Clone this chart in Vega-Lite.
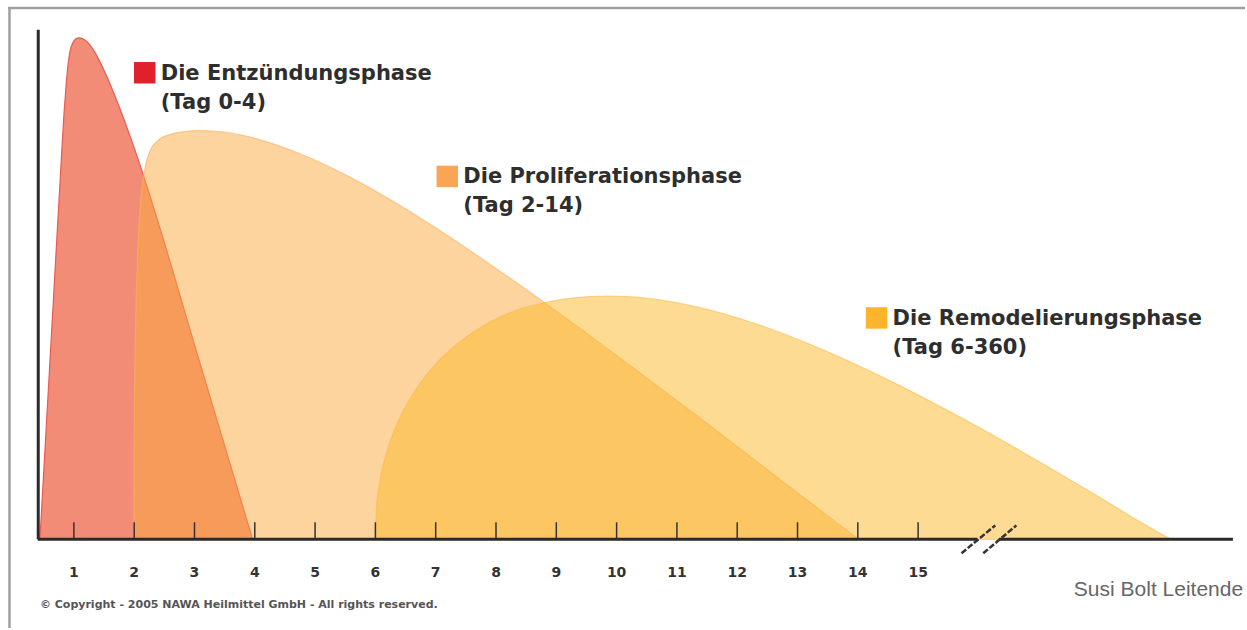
{
  "$schema": "https://vega.github.io/schema/vega-lite/v6.json",
  "width": 1247,
  "height": 630,
  "autosize": {"type": "fit", "contains": "padding"},
  "padding": 0,
  "background": "#ffffff",
  "config": {"view": {"stroke": null}},
  "datasets": {
    "curves": [
      {"phase": "Entzündung", "day": 0.437, "level": 0},
      {"phase": "Entzündung", "day": 0.619, "level": 38.87},
      {"phase": "Entzündung", "day": 0.801, "level": 77.73},
      {"phase": "Entzündung", "day": 0.834, "level": 84.49},
      {"phase": "Entzündung", "day": 0.868, "level": 90.06},
      {"phase": "Entzündung", "day": 0.901, "level": 94.43},
      {"phase": "Entzündung", "day": 0.934, "level": 97.22},
      {"phase": "Entzündung", "day": 0.983, "level": 99.0},
      {"phase": "Entzündung", "day": 1.033, "level": 99.8},
      {"phase": "Entzündung", "day": 1.083, "level": 100},
      {"phase": "Entzündung", "day": 1.182, "level": 99.58},
      {"phase": "Entzündung", "day": 1.265, "level": 98.59},
      {"phase": "Entzündung", "day": 1.348, "level": 97.1},
      {"phase": "Entzündung", "day": 1.43, "level": 95.26},
      {"phase": "Entzündung", "day": 1.596, "level": 90.88},
      {"phase": "Entzündung", "day": 1.762, "level": 85.91},
      {"phase": "Entzündung", "day": 1.927, "level": 80.55},
      {"phase": "Entzündung", "day": 2.093, "level": 74.78},
      {"phase": "Entzündung", "day": 2.258, "level": 68.62},
      {"phase": "Entzündung", "day": 3.086, "level": 35.31},
      {"phase": "Entzündung", "day": 3.964, "level": 0},
      {"phase": "Proliferation", "day": 1.993, "level": 0},
      {"phase": "Proliferation", "day": 2.002, "level": 24.06},
      {"phase": "Proliferation", "day": 2.026, "level": 43.94},
      {"phase": "Proliferation", "day": 2.06, "level": 57.85},
      {"phase": "Proliferation", "day": 2.109, "level": 67.79},
      {"phase": "Proliferation", "day": 2.175, "level": 73.76},
      {"phase": "Proliferation", "day": 2.258, "level": 77.34},
      {"phase": "Proliferation", "day": 2.391, "level": 79.52},
      {"phase": "Proliferation", "day": 2.589, "level": 80.72},
      {"phase": "Proliferation", "day": 2.838, "level": 81.31},
      {"phase": "Proliferation", "day": 3.086, "level": 81.51},
      {"phase": "Proliferation", "day": 3.417, "level": 81.29},
      {"phase": "Proliferation", "day": 3.914, "level": 80.24},
      {"phase": "Proliferation", "day": 4.742, "level": 76.94},
      {"phase": "Proliferation", "day": 5.57, "level": 72.27},
      {"phase": "Proliferation", "day": 6.397, "level": 66.64},
      {"phase": "Proliferation", "day": 7.225, "level": 60.34},
      {"phase": "Proliferation", "day": 8.053, "level": 53.56},
      {"phase": "Proliferation", "day": 8.881, "level": 46.54},
      {"phase": "Proliferation", "day": 9.709, "level": 39.26},
      {"phase": "Proliferation", "day": 10.536, "level": 31.83},
      {"phase": "Proliferation", "day": 11.364, "level": 24.32},
      {"phase": "Proliferation", "day": 12.192, "level": 16.72},
      {"phase": "Proliferation", "day": 13.02, "level": 9.07},
      {"phase": "Proliferation", "day": 14.013, "level": 0},
      {"phase": "Remodelierung", "day": 6.0, "level": 0},
      {"phase": "Remodelierung", "day": 6.017, "level": 5.85},
      {"phase": "Remodelierung", "day": 6.066, "level": 10.92},
      {"phase": "Remodelierung", "day": 6.149, "level": 15.69},
      {"phase": "Remodelierung", "day": 6.232, "level": 19.09},
      {"phase": "Remodelierung", "day": 6.364, "level": 23.18},
      {"phase": "Remodelierung", "day": 6.513, "level": 26.78},
      {"phase": "Remodelierung", "day": 6.728, "level": 30.91},
      {"phase": "Remodelierung", "day": 6.944, "level": 34.19},
      {"phase": "Remodelierung", "day": 7.225, "level": 37.63},
      {"phase": "Remodelierung", "day": 7.507, "level": 40.36},
      {"phase": "Remodelierung", "day": 7.805, "level": 42.68},
      {"phase": "Remodelierung", "day": 8.053, "level": 44.25},
      {"phase": "Remodelierung", "day": 8.384, "level": 45.9},
      {"phase": "Remodelierung", "day": 8.748, "level": 47.02},
      {"phase": "Remodelierung", "day": 9.129, "level": 47.91},
      {"phase": "Remodelierung", "day": 9.543, "level": 48.41},
      {"phase": "Remodelierung", "day": 9.874, "level": 48.51},
      {"phase": "Remodelierung", "day": 10.536, "level": 48.03},
      {"phase": "Remodelierung", "day": 11.364, "level": 46.24},
      {"phase": "Remodelierung", "day": 12.192, "level": 43.44},
      {"phase": "Remodelierung", "day": 13.02, "level": 39.8},
      {"phase": "Remodelierung", "day": 13.848, "level": 35.53},
      {"phase": "Remodelierung", "day": 14.675, "level": 30.75},
      {"phase": "Remodelierung", "day": 15.503, "level": 25.61},
      {"phase": "Remodelierung", "day": 16.331, "level": 20.14},
      {"phase": "Remodelierung", "day": 17.159, "level": 14.41},
      {"phase": "Remodelierung", "day": 17.987, "level": 8.53},
      {"phase": "Remodelierung", "day": 18.649, "level": 3.7},
      {"phase": "Remodelierung", "day": 19.195, "level": 0}
    ],
    "days": [
      {"day": 1}, {"day": 2}, {"day": 3}, {"day": 4}, {"day": 5},
      {"day": 6}, {"day": 7}, {"day": 8}, {"day": 9}, {"day": 10},
      {"day": 11}, {"day": 12}, {"day": 13}, {"day": 14}, {"day": 15}
    ],
    "legend": [
      {"phase": "Entzündung", "name": "Die Entzündungsphase", "period": "(Tag 0-4)", "day": 2.175, "level": 93.04},
      {"phase": "Proliferation", "name": "Die Proliferationsphase", "period": "(Tag 2-14)", "day": 7.192, "level": 72.37},
      {"phase": "Remodelierung", "name": "Die Remodelierungsphase", "period": "(Tag 6-360)", "day": 14.311, "level": 44.14}
    ],
    "axes": [
      {"part": "x-left", "day": 0.4, "day2": 15.98, "level": 0, "level2": 0},
      {"part": "x-right", "day": 16.34, "day2": 20.22, "level": 0, "level2": 0},
      {"part": "y", "day": 0.409, "day2": 0.409, "level": 0, "level2": 101.6}
    ],
    "breaks": [
      {"day": 15.72, "day2": 16.28, "level": -2.78, "level2": 2.78},
      {"day": 16.08, "day2": 16.63, "level": -2.78, "level2": 2.78}
    ],
    "frame": [
      {"day": -0.093, "day2": 20.42, "level": 105.96, "level2": 105.96},
      {"day": -0.068, "day2": -0.068, "level": 105.96, "level2": -17.69}
    ],
    "notes": [
      {"kind": "copyright", "text": "© Copyright - 2005 NAWA Heilmittel GmbH - All rights reserved.", "day": 0.437, "level": -13.12},
      {"kind": "credit", "text": "Susi Bolt Leitende", "day": 20.39, "level": -10.14}
    ]
  },
  "layer": [
    {
      "data": {"name": "frame"},
      "mark": {"type": "rule", "stroke": "#a0a0a0", "strokeWidth": 2.5},
      "encoding": {
        "x": {"field": "day", "type": "quantitative", "axis": null, "scale": {"domain": [-0.2252, 20.4205], "nice": false, "zero": false}},
        "y": {"field": "level", "type": "quantitative", "axis": null, "scale": {"domain": [-17.69, 107.55], "nice": false, "zero": false}},
        "x2": {"field": "day2"}, "y2": {"field": "level2"}
      }
    },
    {
      "data": {"name": "curves"},
      "transform": [{"filter": "datum.phase === 'Entzündung'"}],
      "mark": {"type": "area", "interpolate": "monotone", "fill": "#f28c76", "fillOpacity": 1, "stroke": "#ea5a55", "strokeWidth": 1.2},
      "encoding": {
        "x": {"field": "day", "type": "quantitative", "axis": null, "scale": {"domain": [-0.2252, 20.4205], "nice": false, "zero": false}},
        "y": {"field": "level", "type": "quantitative", "axis": null, "scale": {"domain": [-17.69, 107.55], "nice": false, "zero": false}},
        "y2": {"datum": 0}
      }
    },
    {
      "data": {"name": "curves"},
      "transform": [{"filter": "datum.phase === 'Proliferation'"}],
      "mark": {"type": "area", "interpolate": "monotone", "fill": "#fba93d", "fillOpacity": 0.5, "stroke": "#fbb060", "strokeOpacity": 0.6, "strokeWidth": 1.2},
      "encoding": {
        "x": {"field": "day", "type": "quantitative", "axis": null, "scale": {"domain": [-0.2252, 20.4205], "nice": false, "zero": false}},
        "y": {"field": "level", "type": "quantitative", "axis": null, "scale": {"domain": [-17.69, 107.55], "nice": false, "zero": false}},
        "y2": {"datum": 0}
      }
    },
    {
      "data": {"name": "curves"},
      "transform": [{"filter": "datum.phase === 'Remodelierung'"}],
      "mark": {"type": "area", "interpolate": "monotone", "fill": "#fbb727", "fillOpacity": 0.5, "stroke": "#fbbd4a", "strokeOpacity": 0.6, "strokeWidth": 1.2},
      "encoding": {
        "x": {"field": "day", "type": "quantitative", "axis": null, "scale": {"domain": [-0.2252, 20.4205], "nice": false, "zero": false}},
        "y": {"field": "level", "type": "quantitative", "axis": null, "scale": {"domain": [-17.69, 107.55], "nice": false, "zero": false}},
        "y2": {"datum": 0}
      }
    },
    {
      "data": {"name": "days"},
      "mark": {"type": "rule", "stroke": "#333333", "strokeWidth": 1.5},
      "encoding": {
        "x": {"field": "day", "type": "quantitative", "axis": null, "scale": {"domain": [-0.2252, 20.4205], "nice": false, "zero": false}},
        "y": {"datum": 0, "type": "quantitative", "axis": null, "scale": {"domain": [-17.69, 107.55], "nice": false, "zero": false}},
        "y2": {"datum": 3.4}
      }
    },
    {
      "data": {"name": "axes"},
      "mark": {"type": "rule", "stroke": "#2a2a2a", "strokeWidth": 3},
      "encoding": {
        "x": {"field": "day", "type": "quantitative", "axis": null, "scale": {"domain": [-0.2252, 20.4205], "nice": false, "zero": false}},
        "y": {"field": "level", "type": "quantitative", "axis": null, "scale": {"domain": [-17.69, 107.55], "nice": false, "zero": false}},
        "x2": {"field": "day2"}, "y2": {"field": "level2"}
      }
    },
    {
      "data": {"name": "breaks"},
      "mark": {"type": "rule", "stroke": "#333333", "strokeWidth": 2.5, "strokeDash": [6, 2]},
      "encoding": {
        "x": {"field": "day", "type": "quantitative", "axis": null, "scale": {"domain": [-0.2252, 20.4205], "nice": false, "zero": false}},
        "y": {"field": "level", "type": "quantitative", "axis": null, "scale": {"domain": [-17.69, 107.55], "nice": false, "zero": false}},
        "x2": {"field": "day2"}, "y2": {"field": "level2"}
      }
    },
    {
      "data": {"name": "days"},
      "mark": {"type": "text", "font": "DejaVu Sans", "fontWeight": "bold", "fontSize": 14, "fill": "#333333", "align": "center", "baseline": "middle"},
      "encoding": {
        "x": {"field": "day", "type": "quantitative", "axis": null, "scale": {"domain": [-0.2252, 20.4205], "nice": false, "zero": false}},
        "y": {"datum": -6.76, "type": "quantitative", "axis": null, "scale": {"domain": [-17.69, 107.55], "nice": false, "zero": false}},
        "text": {"field": "day", "type": "quantitative"}
      }
    },
    {
      "data": {"name": "legend"},
      "mark": {"type": "point", "shape": "square", "filled": true, "size": 460, "opacity": 1},
      "encoding": {
        "x": {"field": "day", "type": "quantitative", "axis": null, "scale": {"domain": [-0.2252, 20.4205], "nice": false, "zero": false}},
        "y": {"field": "level", "type": "quantitative", "axis": null, "scale": {"domain": [-17.69, 107.55], "nice": false, "zero": false}},
        "color": {"field": "phase", "type": "nominal", "legend": null,
                  "scale": {"domain": ["Entzündung", "Proliferation", "Remodelierung"], "range": ["#e0202a", "#f9a555", "#fbb42c"]}}
      }
    },
    {
      "data": {"name": "legend"},
      "mark": {"type": "text", "font": "DejaVu Sans", "fontWeight": "bold", "fontSize": 21, "fill": "#2e2e2e", "align": "left", "baseline": "middle", "dx": 16, "dy": 1},
      "encoding": {
        "x": {"field": "day", "type": "quantitative", "axis": null, "scale": {"domain": [-0.2252, 20.4205], "nice": false, "zero": false}},
        "y": {"field": "level", "type": "quantitative", "axis": null, "scale": {"domain": [-17.69, 107.55], "nice": false, "zero": false}},
        "text": {"field": "name"}
      }
    },
    {
      "data": {"name": "legend"},
      "mark": {"type": "text", "font": "DejaVu Sans", "fontWeight": "bold", "fontSize": 21, "fill": "#2e2e2e", "align": "left", "baseline": "middle", "dx": 16, "dy": 30},
      "encoding": {
        "x": {"field": "day", "type": "quantitative", "axis": null, "scale": {"domain": [-0.2252, 20.4205], "nice": false, "zero": false}},
        "y": {"field": "level", "type": "quantitative", "axis": null, "scale": {"domain": [-17.69, 107.55], "nice": false, "zero": false}},
        "text": {"field": "period"}
      }
    },
    {
      "data": {"name": "notes"},
      "transform": [{"filter": "datum.kind === 'copyright'"}],
      "mark": {"type": "text", "font": "DejaVu Sans", "fontWeight": "bold", "fontSize": 11, "fill": "#555555", "align": "left", "baseline": "middle"},
      "encoding": {
        "x": {"field": "day", "type": "quantitative", "axis": null, "scale": {"domain": [-0.2252, 20.4205], "nice": false, "zero": false}},
        "y": {"field": "level", "type": "quantitative", "axis": null, "scale": {"domain": [-17.69, 107.55], "nice": false, "zero": false}},
        "text": {"field": "text"}
      }
    },
    {
      "data": {"name": "notes"},
      "transform": [{"filter": "datum.kind === 'credit'"}],
      "mark": {"type": "text", "font": "Liberation Sans", "fontSize": 21, "fill": "#666666", "align": "right", "baseline": "middle"},
      "encoding": {
        "x": {"field": "day", "type": "quantitative", "axis": null, "scale": {"domain": [-0.2252, 20.4205], "nice": false, "zero": false}},
        "y": {"field": "level", "type": "quantitative", "axis": null, "scale": {"domain": [-17.69, 107.55], "nice": false, "zero": false}},
        "text": {"field": "text"}
      }
    }
  ]
}
